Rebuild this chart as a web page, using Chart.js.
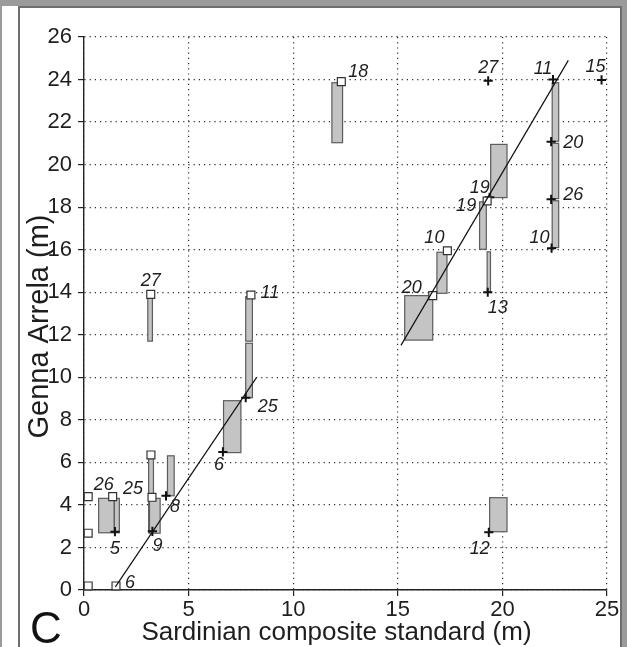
<!DOCTYPE html>
<html lang="en">
<head>
    <meta charset="utf-8">
    <title>Genna Arrela vs Sardinian composite standard</title>
    <style>
        html, body { margin: 0; padding: 0; background: #fff; }
        body { width: 627px; height: 647px; position: relative; overflow: hidden; }
        #frameTop { position: absolute; left: 0; top: 0; width: 627px; height: 6px; background: #9b9b9b; }
        #frameLeft { position: absolute; left: 0; top: 6px; width: 2px; height: 641px; background: #9b9b9b; }
        #frameRight { position: absolute; left: 620px; top: 0; width: 7px; height: 647px; background: #9b9b9b; }
        #panel { position: absolute; left: 18px; top: 6px; width: 600px; height: 650px; border: 2px solid #6e6e6e; background: #fff; }
        #myChart { position: absolute; left: 0; top: 0; }
    </style>
</head>
<body>
    <div id="frameTop"></div>
    <div id="frameLeft"></div>
    <div id="frameRight"></div>
    <div id="panel"></div>
    <canvas id="myChart" width="627" height="647"></canvas>

<script src="https://cdn.jsdelivr.net/npm/chart.js"></script>
<script>
// open squares
var squareX = [12.3, 19.27, 17.37, 16.67, 3.19, 7.98, 0.2, 0.2, 0.2, 1.37, 1.53, 3.2, 3.25];
var squareY = [23.9, 18.29, 15.95, 13.84, 13.9, 13.87, 4.39, 2.67, 0.19, 4.39, 0.19, 6.35, 4.36];
var squareLabel = ['18', '19', '10', '20', '27', '11', '', '', '', '26', '6', '', '25'];

// plus marks
var plusX = [19.32, 22.42, 24.74, 22.33, 22.33, 22.35, 19.39, 19.3, 19.35, 7.73, 6.64, 1.48, 3.27, 3.92];
var plusY = [23.94, 24.0, 23.98, 21.08, 18.37, 16.07, 18.46, 14.0, 2.71, 9.04, 6.49, 2.74, 2.76, 4.43];
var plusLabel = ['27', '11', '15', '20', '26', '10', '19', '13', '12', '25', '6', '5', '9', '8'];

// grey boxes (x from-to, y from-to)
var boxX0 = [11.85, 19.44, 22.38, 22.38, 22.38, 18.91, 19.27, 16.87, 15.33, 19.39, 3.05, 7.73, 7.73, 6.67, 0.7, 1.45, 3.09, 3.13, 3.99];
var boxX1 = [12.36, 20.22, 22.69, 22.69, 22.69, 19.23, 19.43, 17.35, 16.67, 20.22, 3.27, 8.05, 8.05, 7.5, 1.45, 1.69, 3.32, 3.64, 4.31];
var boxY0 = [21.03, 18.45, 21.1, 18.4, 16.1, 16.02, 14.03, 13.95, 11.75, 2.74, 11.7, 11.7, 9.04, 6.46, 2.69, 2.69, 2.69, 2.67, 4.43];
var boxY1 = [23.85, 20.95, 23.85, 21.0, 18.3, 18.25, 15.9, 15.88, 13.84, 4.34, 13.84, 13.79, 11.6, 8.9, 4.31, 4.31, 6.35, 4.31, 6.31];

// correlation lines
var lineLowX = [1.5, 8.25];
var lineLowY = [0.15, 10.0];
var lineHighX = [15.15, 23.15];
var lineHighY = [11.5, 24.9];

// label offsets in px (kept apart from the data)
var squareDx = [17, -21, -13, -21, 0, 19, 0, 0, 0, -9, 14, 0, -19];
var squareDy = [-10, 5, -13, -8, -13, -2, 0, 0, 0, -12, -3, 0, -8];
var plusDx = [0, -10, -6, 22, 22, -12, -10, 10, -9, 22, -4, 0, 5, 9];
var plusDy = [-13, -11, -13, 1, -4, -10, -9, 16, 17, 9, 13, 17, 15, 11];

function toPoints(xs, ys) {
    return xs.map(function (v, i) { return {x: v, y: ys[i]}; });
}

var FONT = "'Liberation Sans', Arial, sans-serif";

var sketch = {
    id: 'sketch',
    beforeDatasetsDraw: function (chart) {
        var ctx = chart.ctx, x = chart.scales.x, y = chart.scales.y;
        ctx.save();
        ctx.fillStyle = '#c4c4c4';
        ctx.strokeStyle = '#5c5c5c';
        ctx.lineWidth = 1.2;
        for (var i = 0; i < boxX0.length; i++) {
            var l = x.getPixelForValue(boxX0[i]), r = x.getPixelForValue(boxX1[i]);
            var t = y.getPixelForValue(boxY1[i]), b = y.getPixelForValue(boxY0[i]);
            ctx.fillRect(l, t, r - l, b - t);
            ctx.strokeRect(l, t, r - l, b - t);
        }
        ctx.restore();
    },
    afterDatasetsDraw: function (chart) {
        var ctx = chart.ctx, x = chart.scales.x, y = chart.scales.y, a = chart.chartArea;
        ctx.save();
        ctx.fillStyle = '#1e1e1e';
        ctx.textAlign = 'center';
        ctx.textBaseline = 'middle';
        ctx.font = 'italic 18px ' + FONT;
        squareLabel.forEach(function (s, i) {
            if (!s) return;
            ctx.fillText(s, x.getPixelForValue(squareX[i]) + squareDx[i], y.getPixelForValue(squareY[i]) + squareDy[i]);
        });
        plusLabel.forEach(function (s, i) {
            ctx.fillText(s, x.getPixelForValue(plusX[i]) + plusDx[i], y.getPixelForValue(plusY[i]) + plusDy[i]);
        });

        // axis titles
        ctx.font = '26px ' + FONT;
        ctx.fillText('Sardinian composite standard (m)', (a.left + a.right) / 2 - 9, 633);
        ctx.font = '29px ' + FONT;
        ctx.translate(40, (a.top + a.bottom) / 2 + 13);
        ctx.rotate(-Math.PI / 2);
        ctx.fillText('Genna Arrela (m)', 0, 0);
        ctx.restore();

        ctx.save();
        ctx.fillStyle = '#111';
        ctx.font = '44px ' + FONT;
        ctx.textAlign = 'center';
        ctx.textBaseline = 'alphabetic';
        ctx.fillText('C', 46, 643);
        ctx.restore();
    }
};

var gridOpts = {
    color: '#2e2e2e',
    lineWidth: 1.2,
    tickLength: 6,
    tickColor: '#222',
    tickWidth: 1.2,
    tickBorderDash: []
};

new Chart('myChart', {
    type: 'scatter',
    data: {
        datasets: [
            {
                data: toPoints(lineLowX, lineLowY),
                showLine: true, borderColor: '#111', borderWidth: 1.2,
                pointRadius: 0, clip: false
            },
            {
                data: toPoints(lineHighX, lineHighY),
                showLine: true, borderColor: '#111', borderWidth: 1.2,
                pointRadius: 0, clip: false
            },
            {
                data: toPoints(squareX, squareY),
                pointStyle: 'rect', pointRadius: 5.6,
                backgroundColor: '#fff', borderColor: '#333', borderWidth: 1.2,
                clip: false
            },
            {
                data: toPoints(plusX, plusY),
                pointStyle: 'cross', pointRadius: 4.6,
                borderColor: '#111', borderWidth: 2,
                clip: false
            }
        ]
    },
    options: {
        responsive: false,
        animation: false,
        events: [],
        layout: { padding: { left: 0, top: 37, right: 20, bottom: 0 } },
        plugins: { legend: { display: false }, tooltip: { enabled: false } },
        scales: {
            x: {
                type: 'linear', min: 0, max: 25,
                afterFit: function (s) { s.height = 57; },
                ticks: { stepSize: 5, padding: 1, color: '#1e1e1e', font: { family: FONT, size: 22 } },
                grid: gridOpts,
                border: { display: true, color: '#222', width: 1.4, dash: [1.2, 4] }
            },
            y: {
                type: 'linear', min: 0, max: 26,
                afterFit: function (s) { s.width = 84; },
                ticks: { stepSize: 2, padding: 6, color: '#1e1e1e', font: { family: FONT, size: 22 } },
                grid: gridOpts,
                border: { display: true, color: '#222', width: 1.4, dash: [1.2, 4] }
            }
        }
    },
    plugins: [sketch]
});
</script>
</body>
</html>
